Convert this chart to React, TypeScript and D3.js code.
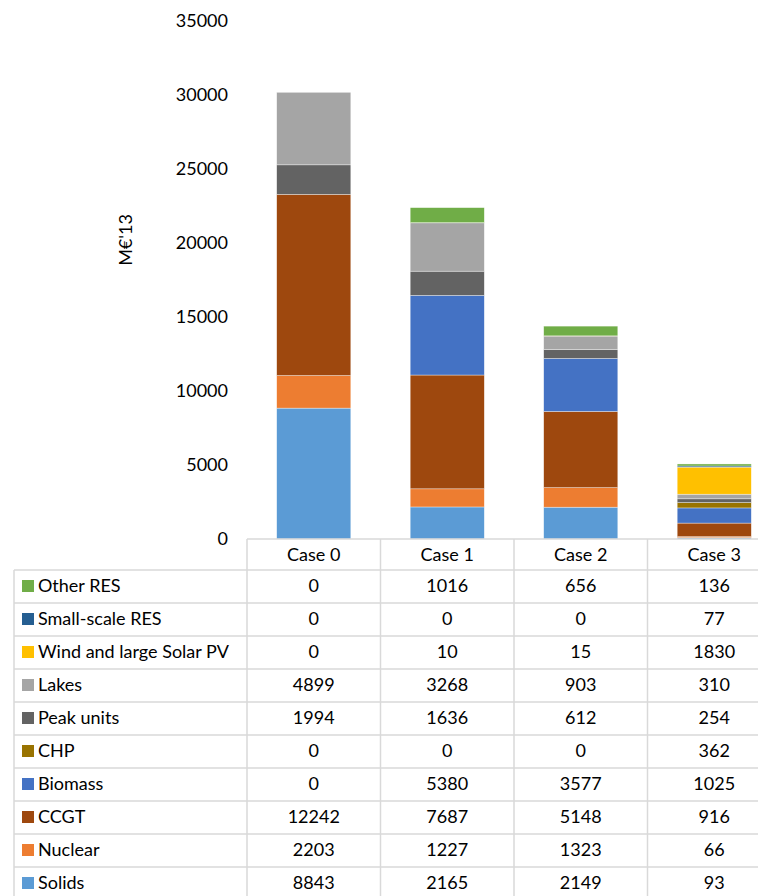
import React from "react";
import * as d3 from "d3";

// Cost of generation by technology, per case (M€'13)
const cases = ["Case 0", "Case 1", "Case 2", "Case 3"];

// Technologies listed bottom-of-stack first
const technologies = [
  "Solids",
  "Nuclear",
  "CCGT",
  "Biomass",
  "CHP",
  "Peak units",
  "Lakes",
  "Wind and large Solar PV",
  "Small-scale RES",
  "Other RES",
];

const solids = [8843, 2165, 2149, 93];
const nuclear = [2203, 1227, 1323, 66];
const ccgt = [12242, 7687, 5148, 916];
const biomass = [0, 5380, 3577, 1025];
const chp = [0, 0, 0, 362];
const peakUnits = [1994, 1636, 612, 254];
const lakes = [4899, 3268, 903, 310];
const windSolar = [0, 10, 15, 1830];
const smallScaleRes = [0, 0, 0, 77];
const otherRes = [0, 1016, 656, 136];

const seriesValues = [
  solids,
  nuclear,
  ccgt,
  biomass,
  chp,
  peakUnits,
  lakes,
  windSolar,
  smallScaleRes,
  otherRes,
];

const colors = [
  "#5B9BD5",
  "#ED7D31",
  "#9E480E",
  "#4472C4",
  "#997300",
  "#636363",
  "#A5A5A5",
  "#FFC000",
  "#255E91",
  "#70AD47",
];

const yTicks = [0, 5000, 10000, 15000, 20000, 25000, 30000, 35000];
const yLabel = "M€'13";

const W = 758;
const H = 896;
const FONT = "Lato, 'Open Sans', sans-serif";
const GRID = "#d9d9d9";

export default function App() {
  const rows = cases.map((c, i) => {
    const r: Record<string, any> = { case: c };
    technologies.forEach((t, k) => (r[t] = seriesValues[k][i]));
    return r;
  });
  const stacked = d3.stack<any>().keys(technologies)(rows);

  const plotTop = 21;
  const plotBottom = 539;
  const y = d3.scaleLinear().domain([0, 35000]).range([plotBottom, plotTop]);
  const x = d3.scaleBand().domain(cases).range([247, 781]).padding(0);
  const barW = x.bandwidth() * 0.555;

  const tableLeft = 14;
  const headerTop = 539;
  const headerBottom = 570;
  const rowH = 33;
  // table rows run top to bottom: last technology first
  const tableRows = technologies.map((t, k) => k).reverse();
  const tableBottom = headerBottom + rowH * tableRows.length;
  const colEdges = [247, ...cases.map((c) => (x(c) as number) + x.bandwidth())];

  return (
    <svg
      width={W}
      height={H}
      style={{ position: "absolute", left: 0, top: 0, background: "#fff" }}
      fontFamily={FONT}
    >
      {/* y axis tick labels */}
      {yTicks.map((t) => (
        <text
          key={t}
          x={228}
          y={y(t)}
          dy="0.35em"
          textAnchor="end"
          fontSize={18}
          fill="#000"
        >
          {t}
        </text>
      ))}
      <text
        transform={`translate(132,${240}) rotate(-90)`}
        textAnchor="middle"
        fontSize={18}
        fill="#000"
      >
        {yLabel}
      </text>

      {/* stacked bars */}
      {stacked.map((s, k) => (
        <g key={s.key} fill={colors[k]}>
          {s.map((d, i) => {
            const h = y(d[0]) - y(d[1]);
            if (h <= 0) return null;
            return (
              <rect
                key={i}
                x={(x(cases[i]) as number) + (x.bandwidth() - barW) / 2}
                y={y(d[1])}
                width={barW}
                height={h}
                stroke="#ffffff"
                strokeOpacity={0.6}
                strokeWidth={0.6}
              />
            );
          })}
        </g>
      ))}

      {/* data table */}
      <g stroke={GRID} strokeWidth={1.5}>
        <line x1={247} x2={W} y1={headerTop} y2={headerTop} />
        {d3.range(tableRows.length + 1).map((r) => (
          <line
            key={r}
            x1={tableLeft}
            x2={W}
            y1={headerBottom + r * rowH}
            y2={headerBottom + r * rowH}
          />
        ))}
        <line x1={tableLeft} x2={tableLeft} y1={headerBottom} y2={tableBottom} />
        {colEdges.map((e, i) => (
          <line key={i} x1={e} x2={e} y1={headerTop} y2={tableBottom} />
        ))}
      </g>

      {cases.map((c) => (
        <text
          key={c}
          x={(x(c) as number) + x.bandwidth() / 2}
          y={(headerTop + headerBottom) / 2}
          dy="0.35em"
          textAnchor="middle"
          fontSize={18}
          fill="#000"
        >
          {c}
        </text>
      ))}

      {tableRows.map((k, r) => {
        const cy = headerBottom + r * rowH + rowH / 2 - 0.5;
        return (
          <g key={technologies[k]}>
            <rect x={22} y={cy - 6} width={12} height={12} fill={colors[k]} />
            <text x={38} y={cy} dy="0.35em" fontSize={18} fill="#000">
              {technologies[k]}
            </text>
            {cases.map((c, i) => (
              <text
                key={c}
                x={(x(c) as number) + x.bandwidth() / 2}
                y={cy}
                dy="0.35em"
                textAnchor="middle"
                fontSize={18}
                fill="#000"
              >
                {seriesValues[k][i]}
              </text>
            ))}
          </g>
        );
      })}
    </svg>
  );
}
